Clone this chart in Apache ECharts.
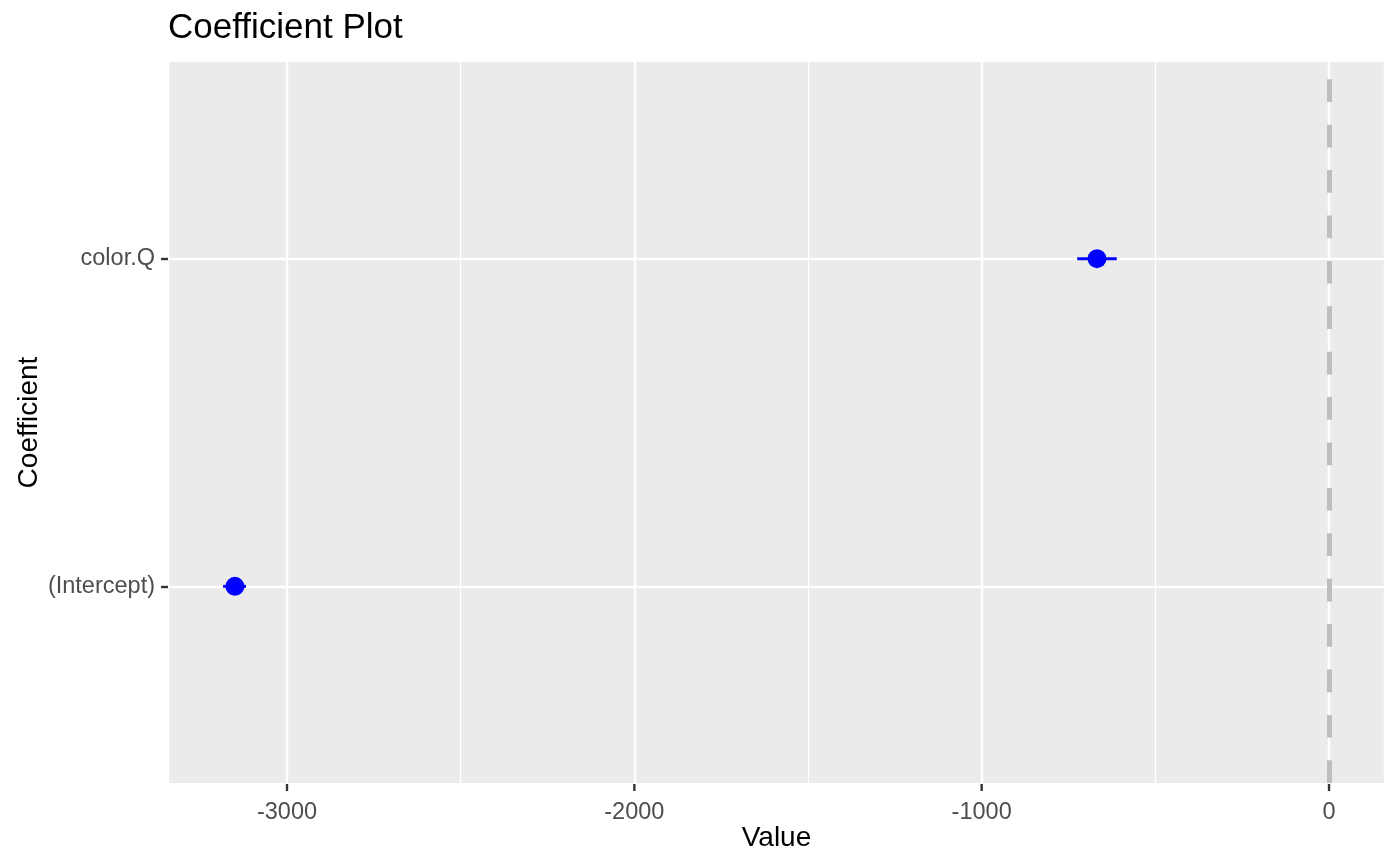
<!DOCTYPE html>
<html>
<head>
<meta charset="utf-8">
<title>Coefficient Plot</title>
<script src="https://cdn.jsdelivr.net/npm/echarts@6/dist/echarts.min.js"></script>
<style>
  html, body { margin: 0; padding: 0; background: #fff; }
  #chart { width: 1400px; height: 866px; }
</style>
</head>
<body>
<div id="chart"></div>
<script>
// coefficient estimates with their interval
const coefNames = ['(Intercept)', 'color.Q']
const estimates = [-3150, -668]
const lowerBounds = [-3184, -725]
const upperBounds = [-3118, -611]

const xTicks = [-3000, -2000, -1000, 0]
const xMinorTicks = [-2500, -1500, -500]
const yPositions = [1, 2]

const font = '"Liberation Sans", Arial, Helvetica, sans-serif'
const yMin = 0.4
const yMax = 2.6

const chart = echarts.init(document.getElementById('chart'))

const pointData = estimates.map((v, i) => [v, yPositions[i]])
const barData = estimates.map((v, i) => [lowerBounds[i], upperBounds[i], yPositions[i]])

chart.setOption({
  animation: false,
  title: {
    text: 'Coefficient Plot',
    left: 163,
    top: 6,
    textStyle: { fontFamily: font, fontSize: 35, fontWeight: 'normal', color: '#000' }
  },
  grid: {
    left: 168,
    right: 15,
    top: 62,
    bottom: 83,
    outerBoundsMode: 'none',
    containLabel: false,
    show: true,
    backgroundColor: '#EBEBEB',
    borderWidth: 0
  },
  xAxis: {
    type: 'value',
    min: -3342.6,
    max: 161.2,
    position: 'bottom',
    name: 'Value',
    nameLocation: 'middle',
    nameGap: 41,
    nameMoveOverlap: false,
    nameTextStyle: { fontFamily: font, fontSize: 28, color: '#000' },
    axisLine: { show: false, onZero: false },
    axisTick: { show: false },
    axisLabel: {
      customValues: xTicks,
      fontFamily: font,
      fontSize: 23.5,
      color: '#4D4D4D',
      margin: 18,
      formatter: (v) => String(v)
    },
    splitLine: {
      show: true,
      lineStyle: { color: '#fff', width: 2.4 }
    }
  },
  yAxis: {
    type: 'value',
    min: yMin,
    max: yMax,
    position: 'left',
    name: 'Coefficient',
    nameLocation: 'middle',
    nameRotate: 90,
    nameGap: 125,
    nameMoveOverlap: false,
    nameTextStyle: { fontFamily: font, fontSize: 28, color: '#000' },
    axisLine: { show: false, onZero: false },
    axisTick: {
      show: true,
      customValues: yPositions,
      length: 7,
      lineStyle: { color: '#333', width: 2.4 }
    },
    axisLabel: {
      customValues: yPositions,
      fontFamily: font,
      fontSize: 23.5,
      color: '#4D4D4D',
      margin: 13,
      formatter: (v) => coefNames[yPositions.indexOf(v)] || ''
    },
    splitLine: {
      show: true,
      lineStyle: { color: '#fff', width: 2.4 }
    }
  },
  series: [
    {
      // minor grid lines
      type: 'line',
      data: [],
      silent: true,
      markLine: {
        silent: true,
        symbol: 'none',
        label: { show: false },
        animation: false,
        lineStyle: { color: '#fff', width: 1.2, type: 'solid' },
        data: xMinorTicks.map(v => ({ xAxis: v }))
      }
    },
    {
      // x axis tick marks below the panel
      type: 'custom',
      silent: true,
      clip: false,
      z: 10,
      data: xTicks.map(v => [v, yMin]),
      renderItem: (params, api) => {
        const p = api.coord([api.value(0), api.value(1)])
        return {
          type: 'line',
          shape: { x1: p[0], y1: p[1] + 1, x2: p[0], y2: p[1] + 8 },
          style: { stroke: '#333', lineWidth: 2.4 }
        }
      }
    },
    {
      // reference line at zero
      type: 'line',
      data: [],
      silent: true,
      z: 3,
      markLine: {
        silent: true,
        symbol: 'none',
        label: { show: false },
        animation: false,
        lineStyle: { color: '#BEBEBE', width: 5, type: [22.7, 22.7] },
        data: [{ xAxis: 0 }]
      }
    },
    {
      type: 'custom',
      z: 4,
      data: barData,
      renderItem: (params, api) => {
        const a = api.coord([api.value(0), api.value(2)])
        const b = api.coord([api.value(1), api.value(2)])
        return {
          type: 'line',
          shape: { x1: a[0], y1: a[1], x2: b[0], y2: b[1] },
          style: { stroke: '#0000FF', lineWidth: 3 }
        }
      }
    },
    {
      type: 'scatter',
      z: 5,
      data: pointData,
      symbol: 'circle',
      symbolSize: 19,
      itemStyle: { color: '#0000FF', opacity: 1 }
    }
  ]
})
</script>
</body>
</html>
